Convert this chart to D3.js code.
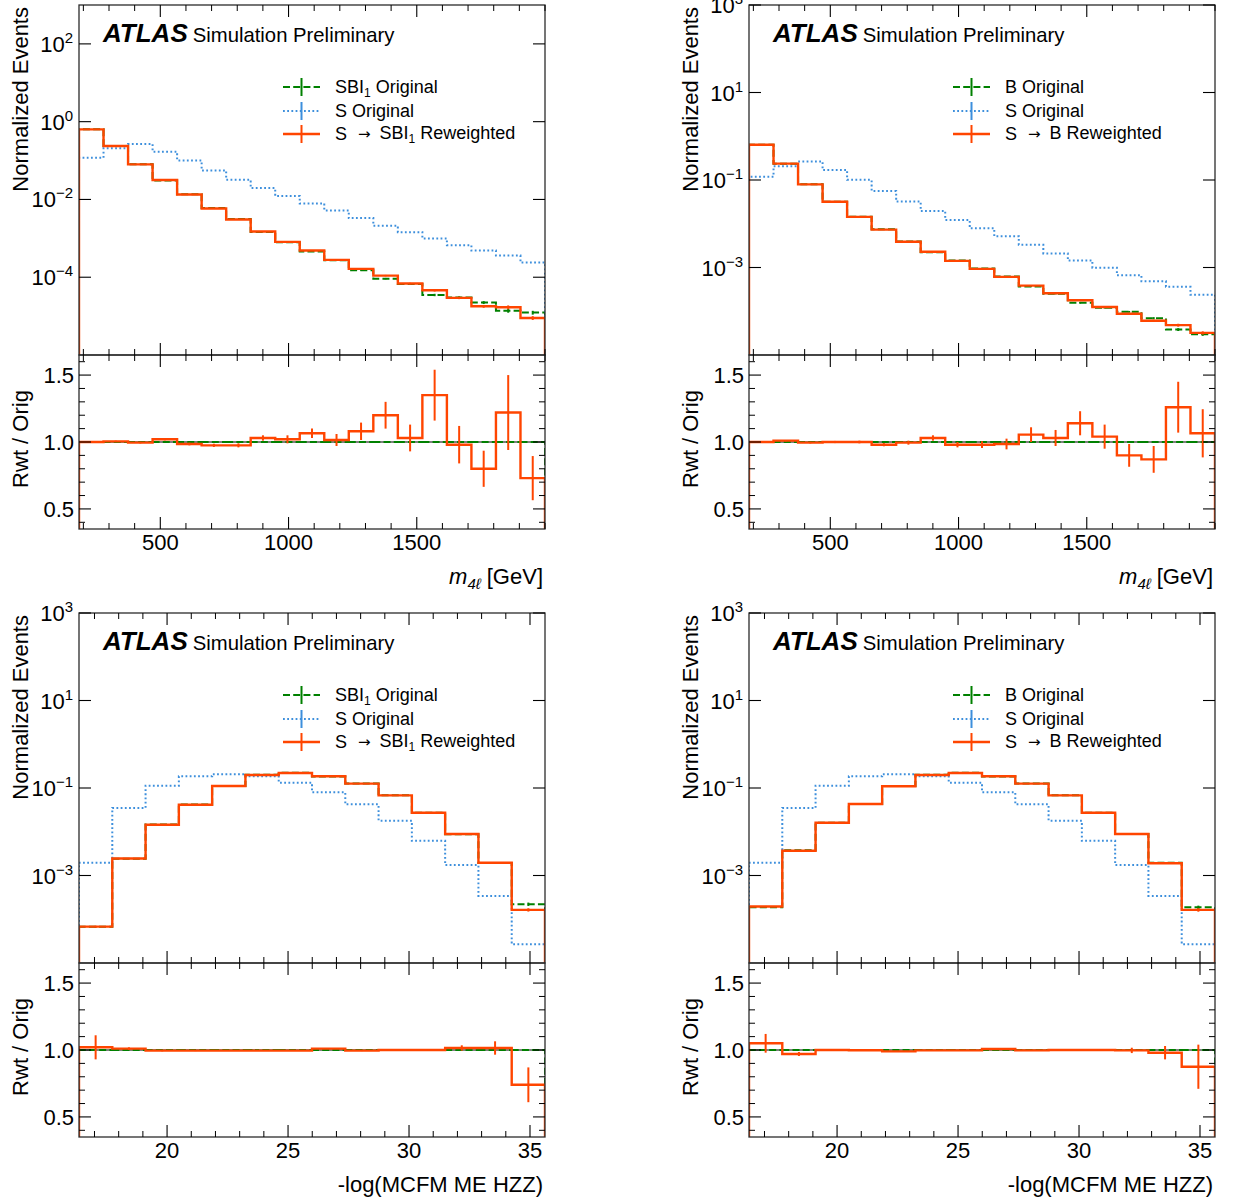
<!DOCTYPE html>
<html>
<head>
<meta charset="utf-8">
<script src="https://cdn.jsdelivr.net/npm/d3@7/dist/d3.min.js"></script>
<style>
    body { margin: 0; background: #fff; }
    svg { font-family: "Liberation Sans", Arial, Helvetica, sans-serif; }
</style>
</head>
<body>
<svg id="chart" width="1234" height="1202"></svg>
<script>
// ----- DATA ----------------------------------------------------------
// binning of the two observables
const m4lRange = [183, 2000];
const m4lBins = 19;
const meRange = [16.36, 35.62];
const meBins = 14;

// m4l : S original (same sample in both top plots)
const sOrigM4l = [0.118, 0.206, 0.266, 0.169, 0.101, 0.0558, 0.0321, 0.0196, 0.0122, 0.00789,
    0.00521, 0.00331, 0.0021, 0.00144, 9.9e-4, 6.67e-4, 4.86e-4, 3.61e-4, 2.39e-4];

// m4l : SBI1 target
const sbiOrigM4l = [0.635, 0.236, 0.080, 0.0309, 0.0136, 0.0060, 0.00314, 0.00146, 7.9e-4, 4.56e-4,
    2.75e-4, 1.52e-4, 9.2e-5, 6.7e-5, 3.5e-5, 3.0e-5, 2.24e-5, 1.38e-5, 1.23e-5];
const sbiRwtM4l = [0.635, 0.236, 0.0796, 0.0315, 0.01345, 0.00586, 0.00306, 0.0015, 8.1e-4, 4.86e-4,
    2.79e-4, 1.64e-4, 1.10e-4, 6.87e-5, 4.62e-5, 2.94e-5, 1.79e-5, 1.69e-5, 8.97e-6];
const sbiRatioM4l = [1.0, 1.005, 0.995, 1.02, 0.985, 0.975, 0.975, 1.03, 1.02, 1.065,
    1.015, 1.08, 1.2, 1.03, 1.35, 0.98, 0.80, 1.22, 0.73];
const sbiRatioErrM4l = [0.004, 0.005, 0.006, 0.008, 0.01, 0.012, 0.015, 0.02, 0.03, 0.035,
    0.045, 0.065, 0.1, 0.1, 0.19, 0.14, 0.135, 0.28, 0.165];

// m4l : B target
const bOrigM4l = [0.638, 0.235, 0.080, 0.0318, 0.01436, 0.0075, 0.00391, 0.00222, 0.00145, 9.5e-4,
    6.2e-4, 3.66e-4, 2.5e-4, 1.56e-4, 1.2e-4, 9.7e-5, 6.95e-5, 3.82e-5, 3.0e-5];
const bRwtM4l = [0.638, 0.237, 0.0795, 0.0318, 0.01436, 0.00735, 0.00389, 0.00229, 0.00142, 9.3e-4,
    6.1e-4, 3.86e-4, 2.57e-4, 1.78e-4, 1.25e-4, 8.77e-5, 6.05e-5, 4.81e-5, 3.2e-5];
const bRatioM4l = [1.0, 1.01, 0.995, 1.0, 1.0, 0.98, 0.995, 1.03, 0.98, 0.98,
    0.985, 1.055, 1.03, 1.14, 1.04, 0.9, 0.87, 1.26, 1.065];
const bRatioErrM4l = [0.004, 0.005, 0.006, 0.008, 0.01, 0.012, 0.015, 0.02, 0.02, 0.025,
    0.04, 0.055, 0.06, 0.09, 0.09, 0.085, 0.1, 0.19, 0.18];

// -log(MCFM ME HZZ) : S original
const sOrigMe = [0.00195, 0.0348, 0.113, 0.185, 0.206, 0.185, 0.132, 0.0796, 0.0423, 0.0179,
    0.00622, 0.00173, 3.42e-4, 2.67e-5];

// -log(MCFM ME HZZ) : SBI1 target
const sbiOrigMe = [6.7e-5, 0.00243, 0.0146, 0.0417, 0.1115, 0.2, 0.222, 0.184, 0.1266, 0.068,
    0.0272, 0.00872, 0.00192, 2.21e-4];
const sbiRwtMe = [6.8e-5, 0.00245, 0.0145, 0.0415, 0.111, 0.199, 0.221, 0.185, 0.126, 0.068,
    0.0272, 0.00885, 0.00195, 1.64e-4];
const sbiRatioMe = [1.02, 1.01, 0.995, 0.995, 0.995, 0.995, 0.995, 1.01, 0.995, 1.0,
    1.0, 1.015, 1.015, 0.74];
const sbiRatioErrMe = [0.09, 0.01, 0.005, 0.003, 0.002, 0.002, 0.002, 0.002, 0.003, 0.004,
    0.006, 0.02, 0.05, 0.13];

// -log(MCFM ME HZZ) : B target
const bOrigMe = [1.87e-4, 0.00378, 0.0161, 0.043, 0.111, 0.2, 0.222, 0.184, 0.1265, 0.068,
    0.0272, 0.00888, 0.00195, 1.87e-4];
const bRwtMe = [1.95e-4, 0.00367, 0.0161, 0.043, 0.11, 0.199, 0.221, 0.185, 0.126, 0.068,
    0.0272, 0.00885, 0.00191, 1.64e-4];
const bRatioMe = [1.05, 0.97, 1.0, 0.998, 0.99, 0.997, 0.997, 1.008, 0.997, 1.0,
    1.0, 0.997, 0.98, 0.875];
const bRatioErrMe = [0.07, 0.015, 0.005, 0.003, 0.002, 0.002, 0.002, 0.002, 0.003, 0.004,
    0.006, 0.02, 0.05, 0.165];

// tick labels
const m4lTicks = [500, 1000, 1500];
const meTicks = [20, 25, 30, 35];
const ratioTicks = [0.5, 1.0, 1.5];

// colours
const GREEN = "#008000";
const BLUE = "#3d8fdc";
const RED = "#ff4500";
const FRAME = "#2b2b2b";

// ----- LAYOUT --------------------------------------------------------
const colX = [79, 749];
const rowY = [5, 613];
const plotW = 466;
const mainH = 350;
const ratioH = 174;

const panels = [
    { col: 0, row: 0, x: "m4l", target: "SBI", yDomain: [1e-6, 1e3], yTicks: [-4, -2, 0, 2],
      orig: sbiOrigM4l, rwt: sbiRwtM4l, s: sOrigM4l, ratio: sbiRatioM4l, ratioErr: sbiRatioErrM4l },
    { col: 1, row: 0, x: "m4l", target: "B", yDomain: [1e-5, 1e3], yTicks: [-3, -1, 1, 3],
      orig: bOrigM4l, rwt: bRwtM4l, s: sOrigM4l, ratio: bRatioM4l, ratioErr: bRatioErrM4l },
    { col: 0, row: 1, x: "me", target: "SBI", yDomain: [1e-5, 1e3], yTicks: [-3, -1, 1, 3],
      orig: sbiOrigMe, rwt: sbiRwtMe, s: sOrigMe, ratio: sbiRatioMe, ratioErr: sbiRatioErrMe },
    { col: 1, row: 1, x: "me", target: "B", yDomain: [1e-5, 1e3], yTicks: [-3, -1, 1, 3],
      orig: bOrigMe, rwt: bRwtMe, s: sOrigMe, ratio: bRatioMe, ratioErr: bRatioErrMe }
];

let svg = d3.select("#chart");
let defs = svg.append("defs");

// ----- PRIVATE FUNCTIONS ---------------------------------------------

// step histogram path which drops down to the baseline at both ends
function _stepPath( edges, values, x, y, baseY )
{
    let p = "M" + x(edges[0]) + "," + baseY;
    values.forEach( (v, i) => {
        p += "V" + y(v) + "H" + x(edges[i + 1]);
    });
    return p + "V" + baseY;
}

function _superTick( sel, exp )
{
    sel.append("tspan").text("10");
    sel.append("tspan")
        .attr("dy", -9)
        .attr("font-size", 15)
        .text( exp < 0 ? "\u2212" + Math.abs(exp) : exp );
}

function _xTicks( g, x, majors, minors, top, bottom )
{
    // inward ticks on the bottom & top edges
    [[bottom, -1], [top, 1]].forEach( ([yy, dir]) => {
        g.selectAll(null).data( majors ).enter().append("line")
            .attr("x1", d => x(d)).attr("x2", d => x(d))
            .attr("y1", yy).attr("y2", yy + dir * 12)
            .attr("stroke", "#000").attr("stroke-width", 1.1);
        g.selectAll(null).data( minors ).enter().append("line")
            .attr("x1", d => x(d)).attr("x2", d => x(d))
            .attr("y1", yy).attr("y2", yy + dir * 6)
            .attr("stroke", "#000").attr("stroke-width", 1);
    });
}

function _drawPanel( cfg )
{
    const left = colX[cfg.col],
        top = rowY[cfg.row],
        right = left + plotW,
        mid = top + mainH,
        bottom = mid + ratioH;

    const isM4l = cfg.x === "m4l";
    const range = isM4l ? m4lRange : meRange;
    const nBins = isM4l ? m4lBins : meBins;
    const edges = d3.range( nBins + 1 ).map( i => range[0] + i * (range[1] - range[0]) / nBins );
    const centers = d3.range( nBins ).map( i => (edges[i] + edges[i + 1]) / 2 );

    let x = d3.scaleLinear().domain( range ).range([left, right]);
    let y = d3.scaleLog().domain( cfg.yDomain ).range([mid, top]);
    let yr = d3.scaleLinear().domain([0.35, 1.65]).range([bottom, mid]);

    const majors = isM4l ? m4lTicks : meTicks;
    const minors = isM4l
        ? d3.range(200, 2001, 100).filter( d => majors.indexOf(d) < 0 )
        : d3.range(17, 36, 1).filter( d => majors.indexOf(d) < 0 );

    const id = "clip" + cfg.col + cfg.row;
    defs.append("clipPath").attr("id", id + "m")
        .append("rect").attr("x", left).attr("y", top).attr("width", plotW).attr("height", mainH);
    defs.append("clipPath").attr("id", id + "r")
        .append("rect").attr("x", left).attr("y", mid).attr("width", plotW).attr("height", ratioH);

    let g = svg.append("g").classed("panel", true);

    // ----- main panel histograms
    let main = g.append("g").attr("clip-path", "url(#" + id + "m)");

    const series = [
        { vals: cfg.orig, color: GREEN, dash: "7,3.2", w: 2, err: true },
        { vals: cfg.s, color: BLUE, dash: "1.8,2.4", w: 2, err: false },
        { vals: cfg.rwt, color: RED, dash: null, w: 2.4, err: true }
    ];

    series.forEach( s => {
        main.append("path")
            .attr("d", _stepPath( edges, s.vals, x, y, mid + 5 ))
            .attr("fill", "none")
            .attr("stroke", s.color)
            .attr("stroke-width", s.w)
            .attr("stroke-dasharray", s.dash);

        if( s.err )
        {
            // statistical error bars at the bin centres
            main.selectAll(null)
                .data( s.vals.map( (v, i) => ({ c: centers[i], v: v, e: 0.5 * cfg.ratioErr[i] / cfg.ratio[i] }) ) )
                .enter().append("line")
                .attr("x1", d => x(d.c)).attr("x2", d => x(d.c))
                .attr("y1", d => y(d.v * (1 + d.e)))
                .attr("y2", d => y(d.v * (1 - d.e)))
                .attr("stroke", s.color)
                .attr("stroke-width", 2);
        }
    });

    // ----- ratio panel
    let rat = g.append("g").attr("clip-path", "url(#" + id + "r)");

    rat.append("line")
        .attr("x1", left).attr("x2", right)
        .attr("y1", yr(1)).attr("y2", yr(1))
        .attr("stroke", "#000").attr("stroke-width", 1);

    rat.append("path")
        .attr("d", _stepPath( edges, cfg.ratio.map( () => 1 ), x, yr, bottom + 5 ))
        .attr("fill", "none")
        .attr("stroke", GREEN)
        .attr("stroke-width", 2)
        .attr("stroke-dasharray", "7,3.2");

    rat.append("path")
        .attr("d", _stepPath( edges, cfg.ratio, x, yr, bottom + 5 ))
        .attr("fill", "none")
        .attr("stroke", RED)
        .attr("stroke-width", 2.4);

    rat.selectAll(null)
        .data( cfg.ratio.map( (v, i) => ({ c: centers[i], v: v, e: cfg.ratioErr[i] }) ) )
        .enter().append("line")
        .attr("x1", d => x(d.c)).attr("x2", d => x(d.c))
        .attr("y1", d => yr(d.v + d.e))
        .attr("y2", d => yr(d.v - d.e))
        .attr("stroke", RED)
        .attr("stroke-width", 2);

    // ----- frames
    [[top, mainH], [mid, ratioH]].forEach( ([yy, h]) => {
        g.append("rect")
            .attr("x", left).attr("y", yy)
            .attr("width", plotW).attr("height", h)
            .attr("fill", "none")
            .attr("stroke", FRAME)
            .attr("stroke-width", 1.3);
    });

    // ----- ticks
    let ticks = g.append("g");
    _xTicks( ticks, x, majors, minors, top, mid );
    _xTicks( ticks, x, majors, minors, mid, bottom );

    // log y ticks (left & right, inward)
    const yMaj = cfg.yTicks.map( e => Math.pow(10, e) );
    [[left, 1], [right, -1]].forEach( ([xx, dir]) => {
        ticks.selectAll(null).data( yMaj ).enter().append("line")
            .attr("x1", xx).attr("x2", xx + dir * 12)
            .attr("y1", d => y(d)).attr("y2", d => y(d))
            .attr("stroke", "#000").attr("stroke-width", 1.1);

        ticks.selectAll(null).data( ratioTicks ).enter().append("line")
            .attr("x1", xx).attr("x2", xx + dir * 12)
            .attr("y1", d => yr(d)).attr("y2", d => yr(d))
            .attr("stroke", "#000").attr("stroke-width", 1.1);

        ticks.selectAll(null)
            .data( d3.range(4, 17).map( d => d / 10 ).filter( d => ratioTicks.indexOf(d) < 0 ) )
            .enter().append("line")
            .attr("x1", xx).attr("x2", xx + dir * 6)
            .attr("y1", d => yr(d)).attr("y2", d => yr(d))
            .attr("stroke", "#000").attr("stroke-width", 1);
    });

    // ----- tick labels
    let labels = g.append("g").attr("font-size", 22).attr("fill", "#000");

    cfg.yTicks.forEach( e => {
        let t = labels.append("text")
            .attr("x", left - 6)
            .attr("y", y(Math.pow(10, e)) + 8)
            .attr("text-anchor", "end");
        _superTick( t, e );
    });

    labels.selectAll(null).data( ratioTicks ).enter().append("text")
        .attr("x", left - 5)
        .attr("y", d => yr(d) + 8)
        .attr("text-anchor", "end")
        .text( d => d.toFixed(1) );

    labels.selectAll(null).data( majors ).enter().append("text")
        .attr("x", d => x(d))
        .attr("y", bottom + 21)
        .attr("text-anchor", "middle")
        .text( d => d );

    // ----- axis titles
    labels.append("text")
        .attr("transform", "translate(" + (left - 51) + "," + (top + 2) + ") rotate(-90)")
        .attr("text-anchor", "end")
        .text("Normalized Events");

    labels.append("text")
        .attr("transform", "translate(" + (left - 51) + "," + (mid + ratioH / 2 - 3) + ") rotate(-90)")
        .attr("text-anchor", "middle")
        .text("Rwt / Orig");

    let xt = labels.append("text")
        .attr("x", right - 2)
        .attr("y", bottom + 55)
        .attr("text-anchor", "end");

    if( isM4l )
    {
        xt.append("tspan").attr("font-style", "italic").text("m");
        xt.append("tspan").attr("font-style", "italic").attr("font-size", 15).attr("dy", 5).text("4\u2113");
        xt.append("tspan").attr("dy", -5).text(" [GeV]");
    }
    else
    {
        xt.text("-log(MCFM ME HZZ)");
    }

    // ----- ATLAS label
    let atlas = g.append("text")
        .attr("x", left + 24)
        .attr("y", top + 37);
    atlas.append("tspan")
        .attr("font-weight", "bold")
        .attr("font-style", "italic")
        .attr("font-size", 26)
        .text("ATLAS");
    atlas.append("tspan")
        .attr("font-size", 20.3)
        .attr("dx", 5)
        .text("Simulation Preliminary");

    // ----- legend
    let legend = g.append("g").attr("font-size", 18);
    const sampleX = left + 204;
    const entries = [
        { color: GREEN, dash: "7,3.2", w: 2, dy: 82 },
        { color: BLUE, dash: "1.8,2.4", w: 2, dy: 106 },
        { color: RED, dash: null, w: 2.4, dy: 129 }
    ];

    entries.forEach( (e, i) => {
        const yy = top + e.dy;
        legend.append("line")
            .attr("x1", sampleX).attr("x2", sampleX + 37)
            .attr("y1", yy).attr("y2", yy)
            .attr("stroke", e.color).attr("stroke-width", e.w)
            .attr("stroke-dasharray", e.dash);
        legend.append("line")
            .attr("x1", sampleX + 18.5).attr("x2", sampleX + 18.5)
            .attr("y1", yy - 9).attr("y2", yy + 9)
            .attr("stroke", e.color).attr("stroke-width", 2);

        let t = legend.append("text")
            .attr("x", sampleX + 52)
            .attr("y", yy + 6);

        // target name, with subscript 1 for SBI; returns dy to restore baseline
        const targetText = (tt, dx) => {
            t.append("tspan").attr("dx", dx).text( tt );
            if( cfg.target === "SBI" )
            {
                t.append("tspan").attr("font-size", 12).attr("dy", 4).text("1");
                return -4;
            }
            return 0;
        };

        if( i === 0 )
        {
            const back = targetText( cfg.target, 0 );
            t.append("tspan").attr("dy", back).text(" Original");
        }
        else if( i === 1 )
        {
            t.append("tspan").text("S Original");
        }
        else
        {
            t.append("tspan").text("S");
            t.append("tspan")
                .attr("font-family", "DejaVu Sans")
                .attr("font-size", 15)
                .attr("dx", 11)
                .attr("dy", -1)
                .text("\u2192");
            t.append("tspan").attr("dy", 1).text("");
            const back = targetText( cfg.target, 9 );
            t.append("tspan").attr("dy", back).text(" Reweighted");
        }
    });
}

// ----- DRAW ----------------------------------------------------------
panels.forEach( p => _drawPanel( p ) );
</script>
</body>
</html>
